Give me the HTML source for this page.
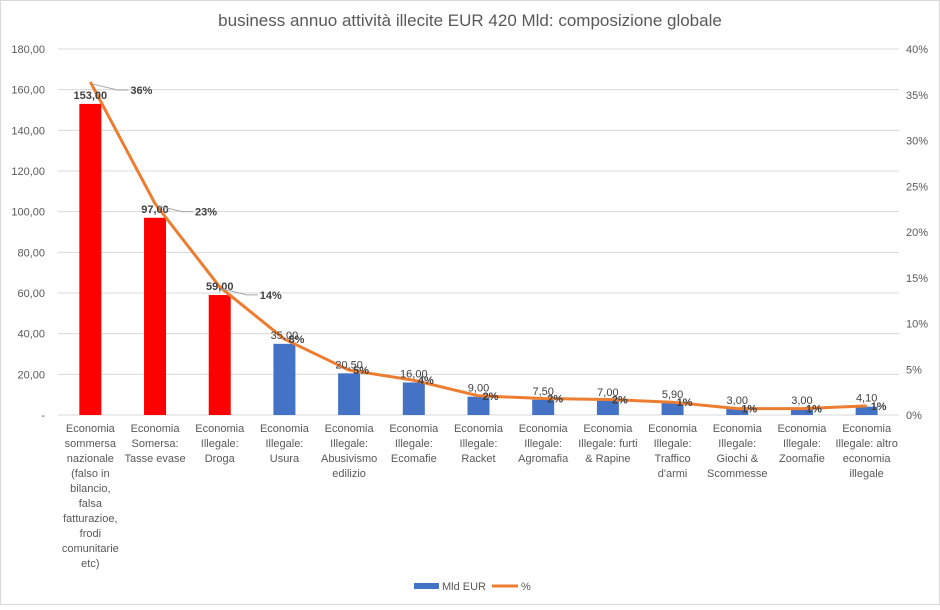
<!DOCTYPE html>
<html><head><meta charset="utf-8"><style>
body{margin:0;background:#fff;font-family:"Liberation Sans",sans-serif}
svg text{font-family:"Liberation Sans",sans-serif}
</style></head><body>
<svg id="c" width="940" height="605">
<rect x="0.5" y="0.5" width="939" height="604" fill="#fff" stroke="#d9d9d9"/>
<text x="470" y="26" text-anchor="middle" font-size="17" fill="#595959">business annuo attività illecite EUR 420 Mld: composizione globale</text>
<g id="grid"></g><g id="bars"></g><g id="line"></g><g id="labels"></g>
<g>
<rect x="414" y="583" width="25" height="6" fill="#4472c4"/>
<text x="442" y="590" font-size="11" fill="#595959">Mld EUR</text>
<line x1="492" y1="586" x2="518" y2="586" stroke="#ed7d31" stroke-width="3"/>
<text x="521" y="590" font-size="11" fill="#595959">%</text>
</g>
</svg>
<script>
const categories=[["Economia","sommersa","nazionale","(falso in","bilancio,","falsa","fatturazioe,","frodi","comunitarie","etc)"],["Economia","Somersa:","Tasse evase"],["Economia","Illegale:","Droga"],["Economia","Illegale:","Usura"],["Economia","Illegale:","Abusivismo","edilizio"],["Economia","Illegale:","Ecomafie"],["Economia","Illegale:","Racket"],["Economia","Illegale:","Agromafia"],["Economia","Illegale: furti","& Rapine"],["Economia","Illegale:","Traffico","d'armi"],["Economia","Illegale:","Giochi &","Scommesse"],["Economia","Illegale:","Zoomafie"],["Economia","Illegale: altro","economia","illegale"]];
const values=[153,97,59,35,20.5,16,9,7.5,7,5.9,3,3,4.1];
const pct=[36.4,23.1,14.0,8.3,4.9,3.8,2.1,1.8,1.7,1.4,0.7,0.7,1.0];
const pctLabels=["36%","23%","14%","8%","5%","4%","2%","2%","2%","1%","1%","1%","1%"];
const leftTicks=[0,20,40,60,80,100,120,140,160,180];
const rightTicks=[0,5,10,15,20,25,30,35,40];
const NS="http://www.w3.org/2000/svg";
const x0=58,x1=899,yTop=49,yBot=415,n=categories.length,step=(x1-x0)/n;
const xc=i=>x0+step*(i+0.5);
const yL=v=>yBot-v/180*(yBot-yTop);
const yR=v=>yBot-v/40*(yBot-yTop);
function mk(t,a,p){const e=document.createElementNS(NS,t);for(const k in a)e.setAttribute(k,a[k]);p.appendChild(e);return e;}
const g=document.getElementById('grid'),b=document.getElementById('bars'),l=document.getElementById('line'),lb=document.getElementById('labels');
leftTicks.forEach(v=>{
 const ln=mk('line',{x1:x0,x2:x1,y1:yL(v),y2:yL(v),stroke:'#d9d9d9'},g);
 
 
 const t=mk('text',{x:45,y:yL(v)+4,'text-anchor':'end','font-size':11,fill:'#595959'},g);
 t.textContent=v===0?'-':v.toFixed(2).replace('.',',');
 
 
});
rightTicks.forEach(v=>{
 const t=mk('text',{x:906,y:yR(v)+4,'font-size':11,fill:'#595959'},g);
 t.textContent=v+'%';
 
 
});
values.forEach((v,i)=>{
 const r=mk('rect',{x:xc(i)-11,y:yL(v),width:22,height:yBot-yL(v),fill:i<3?'#ff0000':'#4472c4'},b);
 
 
 const t=mk('text',{x:xc(i),y:yL(v)-5,'text-anchor':'middle','font-size':11,fill:'#404040','font-weight':i<3?'bold':'normal'},lb);
 t.textContent=v.toFixed(2).replace('.',',');
 
 
 categories[i].forEach((s,k)=>{
  const c=mk('text',{x:xc(i),y:432+k*15,'text-anchor':'middle','font-size':11,fill:'#595959'},lb);
  c.textContent=s;
  
  
 });
});
const p=mk('polyline',{points:pct.map((v,i)=>xc(i)+','+yR(v)).join(' '),fill:'none',stroke:'#ed7d31','stroke-width':3,'stroke-linejoin':'round'},l);


pct.forEach((v,i)=>{
 const big=i<3;
 const tx=big?xc(i)+40:xc(i)+12, ty=big?yR(v)+12:yR(v)+4;
 if(big){const c=mk('path',{d:`M${xc(i)+2},${yR(v)+2} L${tx-13},${ty-4} L${tx-2},${ty-4}`,fill:'none',stroke:'#a6a6a6'},lb);
  
  }
 const t=mk('text',{x:tx,y:ty,'font-size':11,fill:'#404040','font-weight':'bold','text-anchor':big?'start':'middle'},lb);
 t.textContent=pctLabels[i];
 
 
});
</script>
</body></html>
